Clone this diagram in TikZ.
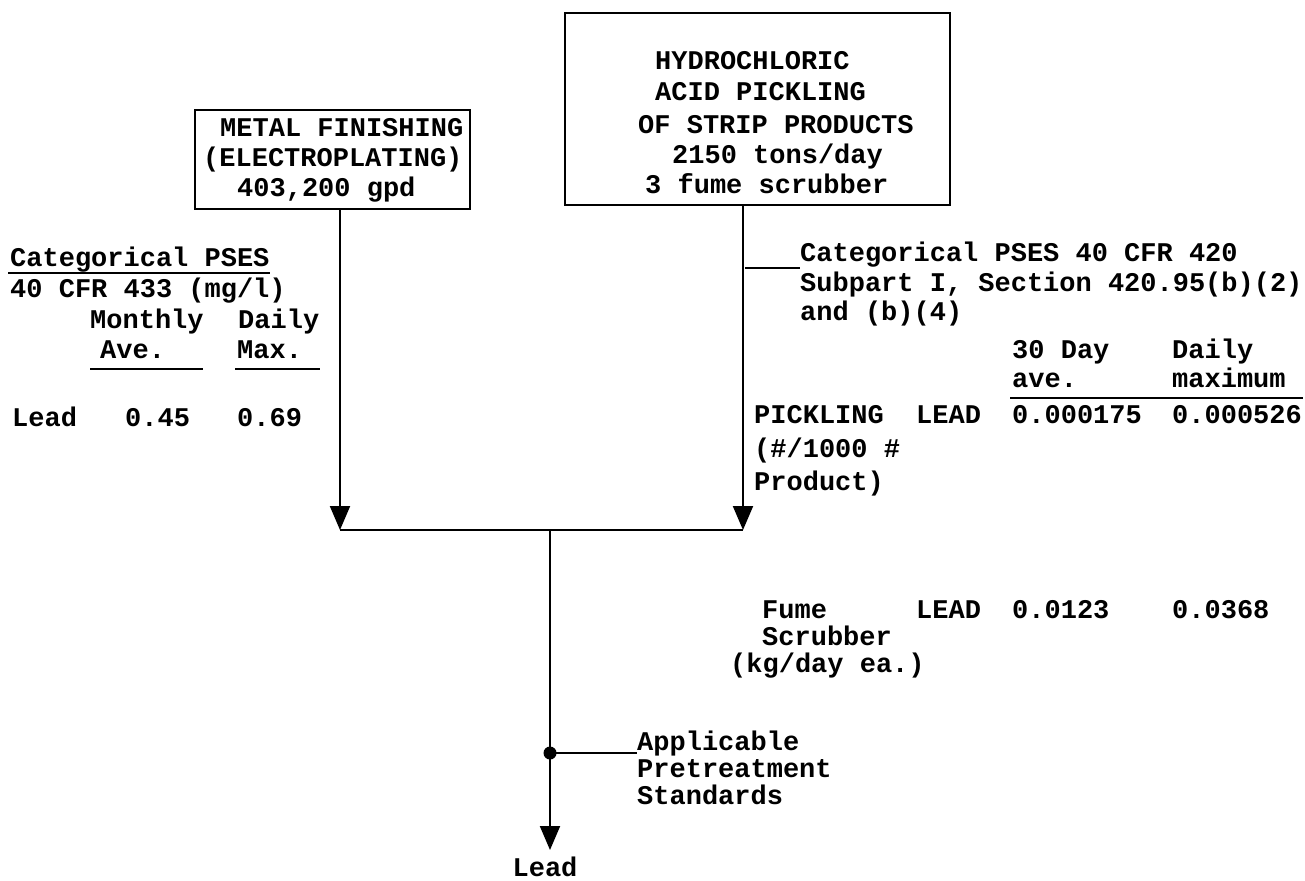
\documentclass[tikz,border=0pt]{standalone}
\usepackage{fontspec}
\setmonofont{Liberation Mono}
\usetikzlibrary{arrows.meta}
\begin{document}
\begin{tikzpicture}[x=1pt,y=-1pt,
  txt/.style={anchor=base west,inner sep=0pt,font=\ttfamily\bfseries\fontsize{27}{30}\selectfont},
  boxnode/.style={draw,line width=2pt,inner sep=0pt},
  ln/.style={line width=2pt},
  arr/.style={line width=2pt,-{Triangle[width=20pt,length=24pt]}}]
\useasboundingbox (0,0) rectangle (1305,880);
% boxes
\node[boxnode,minimum width=275pt,minimum height=99pt] (box1) at (332.5,159.5) {};
\node[boxnode,minimum width=385pt,minimum height=192pt] (box2) at (757.5,109) {};
% box 1 text
\node[txt] (b1a) at (220,136) {METAL FINISHING};
\node[txt] (b1b) at (203,166) {(ELECTROPLATING)};
\node[txt] (b1c) at (237,196) {403,200 gpd};
% box 2 text
\node[txt] (b2a) at (655,70) {HYDROCHLORIC};
\node[txt] (b2b) at (655,101) {ACID PICKLING};
\node[txt] (b2c) at (638,133) {OF STRIP PRODUCTS};
\node[txt] (b2d) at (672,163) {2150 tons/day};
\node[txt] (b2e) at (645,193) {3 fume scrubber};
% left block
\node[txt] (l1) at (10,266) {Categorical PSES};
\draw[ln] (8,273) -- (270,273);
\node[txt] (l2) at (10,297) {40 CFR 433 (mg/l)};
\node[txt] (l3a) at (90,328) {Monthly};
\node[txt] (l3b) at (238,328) {Daily};
\node[txt] (l4a) at (100,358) {Ave.};
\node[txt] (l4b) at (237,358) {Max.};
\draw[ln] (90,369) -- (203,369);
\draw[ln] (235,369) -- (320,369);
\node[txt] (l5a) at (12,426) {Lead};
\node[txt] (l5b) at (125,426) {0.45};
\node[txt] (l5c) at (237,426) {0.69};
% right block
\node[txt] (r1) at (800,261) {Categorical PSES 40 CFR 420};
\coordinate (lead0) at (745,268);
\draw[ln] (lead0) -- (r1.base west |- lead0);
\node[txt] (r2) at (800,291) {Subpart I, Section 420.95(b)(2)};
\node[txt] (r3) at (800,320) {and (b)(4)};
\node[txt] (r4a) at (1012,358) {30 Day};
\node[txt] (r4b) at (1172,358) {Daily};
\node[txt] (r5a) at (1012,387) {ave.};
\node[txt] (r5b) at (1172,387) {maximum};
\draw[ln] (1010,398) -- (1303,398);
\node[txt] (p1) at (754,423) {PICKLING};
\node[txt] (p2) at (916,423) {LEAD};
\node[txt] (p3) at (1012,423) {0.000175};
\node[txt] (p4) at (1172,423) {0.000526};
\node[txt] (p5) at (754,457) {(\#/1000 \#};
\node[txt] (p6) at (754,490) {Product)};
\node[txt] (f1) at (762,618) {Fume};
\node[txt] (f2) at (916,618) {LEAD};
\node[txt] (f3) at (1012,618) {0.0123};
\node[txt] (f4) at (1172,618) {0.0368};
\node[txt] (f5) at (762,645) {Scrubber};
\node[txt] (f6) at (730,672) {(kg/day ea.)};
% flow
\coordinate (jl) at (340,530);
\coordinate (jr) at (743,530);
\coordinate (jm) at (550,530);
\draw[arr] (box1.south -| jl) -- (jl);
\draw[arr] (box2.south -| jr) -- (jr);
\draw[ln] (jl) -- (jr);
\node[circle,fill,inner sep=0pt,minimum size=13pt] (dot) at (550,753) {};
\node[txt,anchor=base] (lead) at (545,876) {Lead};
\draw[arr] (jm) -- (550,850);
\node[txt] (a1) at (637,750) {Applicable};
\node[txt] (a2) at (637,777) {Pretreatment};
\node[txt] (a3) at (637,804) {Standards};
\draw[ln] (dot.center) -- (a1.base west |- dot.center);
\end{tikzpicture}
\end{document}
